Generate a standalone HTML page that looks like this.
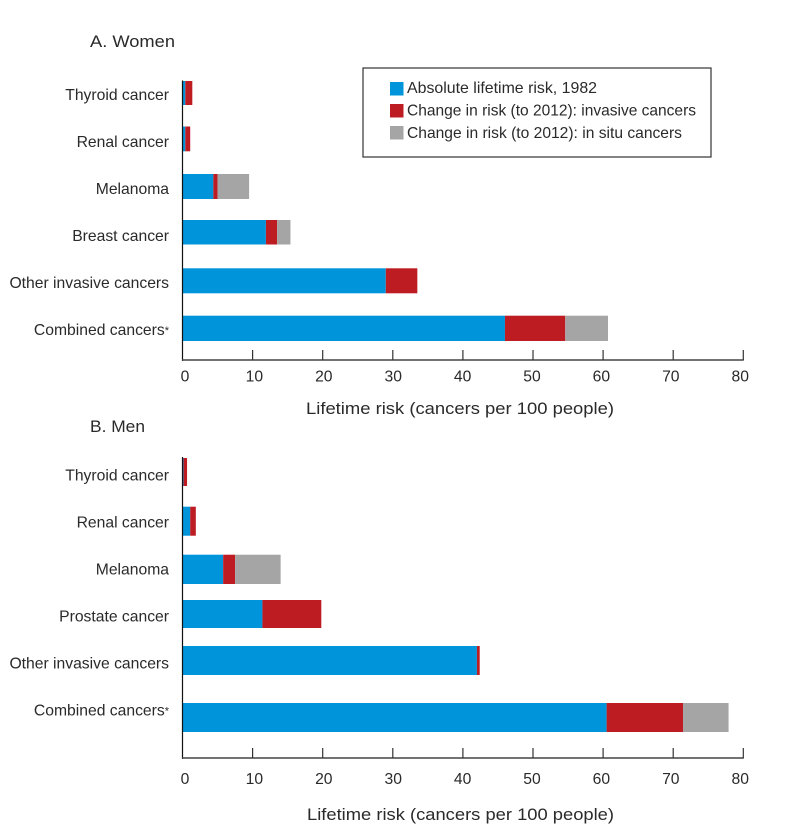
<!DOCTYPE html>
<html lang="en">
<head>
<meta charset="utf-8">
<title>Lifetime risk of cancer</title>
<style>
html,body{margin:0;padding:0;background:#fff;}
svg{display:block;}
text{font-family:"Liberation Sans",sans-serif;font-size:15.7px;fill:#2a2a2a;}
</style>
</head>
<body>
<svg id="chart" width="800" height="836" viewBox="0 0 800 836" xmlns="http://www.w3.org/2000/svg">
  <text x="90" y="47" textLength="85" lengthAdjust="spacingAndGlyphs" style="font-size:16.5px">A. Women</text>
  <text x="90" y="432" textLength="55" lengthAdjust="spacingAndGlyphs" style="font-size:16.5px">B. Men</text>
  <text x="306" y="414" textLength="308" lengthAdjust="spacingAndGlyphs" style="font-size:16.5px">Lifetime risk (cancers per 100 people)</text>
  <text x="307" y="820" textLength="307" lengthAdjust="spacingAndGlyphs" style="font-size:16.5px">Lifetime risk (cancers per 100 people)</text>

  <g>
    <rect x="363" y="68" width="348" height="89" fill="#fff" stroke="#333" stroke-width="1.2"/>
    <rect x="390" y="82" width="13.5" height="13.5" fill="#0095da"/>
    <text x="407" y="93" textLength="190" lengthAdjust="spacingAndGlyphs">Absolute lifetime risk, 1982</text>
    <rect x="390" y="104" width="13.5" height="13.5" fill="#bd1c23"/>
    <text x="407" y="115.500" textLength="289" lengthAdjust="spacingAndGlyphs">Change in risk (to 2012): invasive cancers</text>
    <rect x="390" y="126" width="13.5" height="13.5" fill="#a5a5a5"/>
    <text x="407" y="138" textLength="275" lengthAdjust="spacingAndGlyphs">Change in risk (to 2012): in situ cancers</text>
  </g>
</svg>
<script>
// Panel A (women): categories and series values, top to bottom
const womenCategories = ["Thyroid cancer", "Renal cancer", "Melanoma", "Breast cancer", "Other invasive cancers", "Combined cancers*"];
const womenAbsolute = [0.4, 0.4, 4.4, 11.9, 29.0, 46.0];
const womenInvasive = [1.0, 0.7, 0.6, 1.6, 4.5, 8.6];
const womenInSitu = [0, 0, 4.5, 1.9, 0, 6.1];

// Panel B (men): categories and series values, top to bottom
const menCategories = ["Thyroid cancer", "Renal cancer", "Melanoma", "Prostate cancer", "Other invasive cancers", "Combined cancers*"];
const menAbsolute = [0.15, 1.1, 5.8, 11.4, 42.0, 60.5];
const menInvasive = [0.5, 0.8, 1.7, 8.4, 0.4, 10.9];
const menInSitu = [0, 0, 6.5, 0, 0, 6.5];

// Shared axis tick labels
const tickValues = [0, 10, 20, 30, 40, 50, 60, 70, 80];

const seriesColors = ["#0095da", "#bd1c23", "#a5a5a5"];
const seriesKeys = ["absolute", "invasive", "in-situ"];
const NS = "http://www.w3.org/2000/svg";
const svg = document.getElementById("chart");

function xScale(v) { return 182.5 + v * 7.01; }
function tickLabelX(v) { return 185 + v * 6.94; }

function make(tag, attrs) {
  const el = document.createElementNS(NS, tag);
  for (const k in attrs) el.setAttribute(k, attrs[k]);
  return el;
}

function drawPanel(prefix, categories, seriesList, frame) {
  const g = make("g", {});
  
  
  svg.appendChild(g);

  categories.forEach(function (cat, i) {
    const top = frame.bandTop[i];
    const barH = frame.bandBottom[i] - top;
    let cumulative = 0;
    seriesList.forEach(function (values, s) {
      const val = values[i];
      if (val > 0) {
        const x0 = xScale(cumulative);
        const x1 = xScale(cumulative + val);
        const r = make("rect", { x: x0, y: top, width: x1 - x0, height: barH, fill: seriesColors[s] });
        
        
        r.setAttribute('aria-label', prefix + ' ' + cat + ' ' + seriesKeys[s]);
        g.appendChild(r);
      }
      cumulative += val;
    });

    const hasStar = cat.endsWith("*");
    const label = make("text", { x: 169, y: frame.labelFirst + i * 47, "text-anchor": "end" });
    
    
    if (hasStar) {
      label.appendChild(document.createTextNode(cat.slice(0, -1)));
      const star = make("tspan", { dy: -1, style: "font-size:11px" });
      star.textContent = "*";
      label.appendChild(star);
    } else {
      label.textContent = cat;
    }
    g.appendChild(label);
  });

  const yAxis = make("line", { x1: 182.5, x2: 182.5, y1: frame.axisTop, y2: frame.axisY + 1, stroke: "#111", "stroke-width": 1.2 });
  
  
  g.appendChild(yAxis);

  const xAxis = make("line", { x1: 182, x2: xScale(80) + 0.5, y1: frame.axisY, y2: frame.axisY, stroke: "#444", "stroke-width": 1.5 });
  
  
  g.appendChild(xAxis);

  tickValues.forEach(function (t) {
    if (t > 0) {
      const tick = make("line", { x1: xScale(t), x2: xScale(t), y1: frame.axisY - 10, y2: frame.axisY, stroke: "#333", "stroke-width": 1.2 });
      
      
      g.appendChild(tick);
    }
    const lab = make("text", { x: tickLabelX(t), y: frame.tickLabelY, "text-anchor": "middle" });
    
    
    lab.textContent = String(t);
    g.appendChild(lab);
  });
}

drawPanel("women", womenCategories, [womenAbsolute, womenInvasive, womenInSitu], {
  bandTop: [81, 126.5, 174, 220, 268.3, 315.7],
  bandBottom: [105, 151.3, 199, 244.5, 293.3, 341],
  labelFirst: 100, axisTop: 80.5, axisY: 360, tickLabelY: 381.5
});
drawPanel("men", menCategories, [menAbsolute, menInvasive, menInSitu], {
  bandTop: [458, 506.7, 554.7, 600, 646, 703],
  bandBottom: [486, 535.7, 584, 628, 675, 732],
  labelFirst: 480.5, axisTop: 457, axisY: 758, tickLabelY: 784
});
</script>
</body>
</html>
